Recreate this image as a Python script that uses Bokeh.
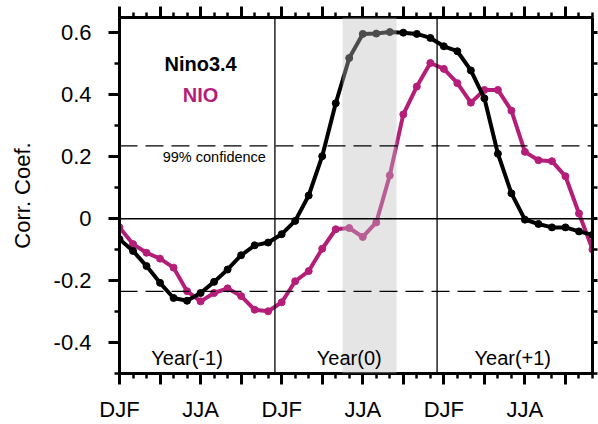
from bokeh.plotting import figure
from bokeh.models import (Range1d, FixedTicker, LinearAxis, BoxAnnotation, Span, Label,
                          CustomLabelingPolicy)
from bokeh.embed import file_html
from bokeh.resources import INLINE

# ---- data ----
months = list(range(36))
nino34 = [-0.066, -0.104, -0.153, -0.207, -0.256, -0.265, -0.240, -0.204, -0.164, -0.118,
          -0.086, -0.077, -0.050, -0.007, 0.075, 0.202, 0.373, 0.519, 0.597, 0.598,
          0.603, 0.601, 0.597, 0.584, 0.557, 0.541, 0.479, 0.389, 0.210, 0.082,
          -0.003, -0.017, -0.028, -0.028, -0.041, -0.052]
nio = [-0.028, -0.082, -0.110, -0.129, -0.158, -0.234, -0.267, -0.240, -0.225, -0.250,
       -0.294, -0.299, -0.270, -0.202, -0.169, -0.097, -0.034, -0.030, -0.059, -0.012,
       0.140, 0.337, 0.427, 0.503, 0.484, 0.438, 0.375, 0.416, 0.416, 0.349,
       0.216, 0.189, 0.186, 0.137, 0.017, -0.099]
conf99 = 0.235
year_bounds = [11.5, 23.5]
shade = (16.5, 20.5)
year_labels = ["Year(-1)", "Year(0)", "Year(+1)"]
year_label_x = [5.0, 17.0, 29.1]
x_major = list(range(0, 36, 3))
x_minor = list(range(0, 36))
x_labels = {0: "DJF", 6: "JJA", 12: "DJF", 18: "JJA", 24: "DJF", 30: "JJA"}
y_major = [-0.4, -0.2, 0.0, 0.2, 0.4, 0.6]
y_minor = [-0.5, -0.3, -0.1, 0.1, 0.3, 0.5]
y_labels = ["-0.4", "-0.2", "0", "0.2", "0.4", "0.6"]

MAG = "#B41E78"
FONT = "Liberation Sans"

p = figure(width=598, height=424, x_range=Range1d(0, 35), y_range=Range1d(-0.5, 0.65),
           output_backend="svg", toolbar_location=None,
           min_border_left=119, min_border_right=6, min_border_top=17, min_border_bottom=51)
p.outline_line_color = None
p.xgrid.visible = False
p.ygrid.visible = False
p.background_fill_color = "white"
p.border_fill_color = "white"

xt = FixedTicker(ticks=x_major, minor_ticks=x_minor)
yt = FixedTicker(ticks=y_major, minor_ticks=y_minor)

def style(ax, out_major, out_minor):
    ax.axis_line_width = 3
    ax.axis_line_color = "black"
    ax.major_tick_line_width = 3
    ax.minor_tick_line_width = 2.5
    ax.major_tick_in = 0
    ax.minor_tick_in = 0
    ax.major_tick_out = out_major
    ax.minor_tick_out = out_minor
    ax.major_label_text_font = FONT
    ax.major_label_text_color = "black"

def hide_labels(ax):
    ax.major_label_text_font_size = "0px"
    ax.major_label_standoff = 0
    ax.major_label_policy = CustomLabelingPolicy(
        code="for (const i of [...indices]) { indices.unset(i) }\nreturn indices")

xa = p.xaxis[0]
xa.ticker = xt
style(xa, 11, 5)
xa.major_label_overrides = {t: x_labels.get(t, "") for t in x_major}
xa.major_label_text_font_size = "22px"
xa.major_label_standoff = 12

ya = p.yaxis[0]
ya.ticker = yt
style(ya, 11, 5)
ya.major_label_overrides = {t: l for t, l in zip(y_major, y_labels)}
ya.major_label_text_font_size = "22px"
ya.major_label_standoff = 17
ya.axis_label = "Corr. Coef."
ya.axis_label_text_font = FONT
ya.axis_label_text_font_size = "22px"
ya.axis_label_text_font_style = "normal"
ya.axis_label_text_color = "black"
ya.axis_label_standoff = 16

top = LinearAxis(ticker=FixedTicker(ticks=x_major, minor_ticks=x_minor))
style(top, 11, 5)
hide_labels(top)
p.add_layout(top, "above")

right = LinearAxis(ticker=FixedTicker(ticks=y_major, minor_ticks=y_minor))
style(right, 5, 5)
hide_labels(right)
p.add_layout(right, "right")

# data lines
p.line(months, nio, line_color=MAG, line_width=4)
p.scatter(months, nio, size=7, color=MAG)
p.line(months, nino34, line_color="black", line_width=4)
p.scatter(months, nino34, size=7, color="black")

# shading over the lines
p.add_layout(BoxAnnotation(left=shade[0], right=shade[1], fill_color="#bdbdbd",
                           fill_alpha=0.4, line_color=None))

p.add_layout(Span(location=0, dimension="width", line_color="black", line_width=1.5))
for b in year_bounds:
    p.add_layout(Span(location=b, dimension="height", line_color="black", line_width=1.3))
for c in (conf99, -conf99):
    p.add_layout(Span(location=c, dimension="width", line_color="black", line_width=1.3,
                      line_dash="18 8"))

p.add_layout(Label(x=6.0, y=0.499, text="Nino3.4", text_align="center", text_baseline="alphabetic",
                   text_font=FONT, text_font_size="20px", text_font_style="bold", text_color="black"))
p.add_layout(Label(x=6.0, y=0.400, text="NIO", text_align="center", text_baseline="alphabetic",
                   text_font=FONT, text_font_size="20px", text_font_style="bold", text_color=MAG))
p.add_layout(Label(x=3.2, y=0.198, text="99% confidence", text_align="left", text_baseline="alphabetic",
                   text_font=FONT, text_font_size="14.5px", text_color="black"))
for t, xx in zip(year_labels, year_label_x):
    p.add_layout(Label(x=xx, y=-0.449, text=t, text_align="center", text_baseline="alphabetic",
                       text_font=FONT, text_font_size="20px", text_color="black"))

open("out.html", "w").write(file_html(p, INLINE))
